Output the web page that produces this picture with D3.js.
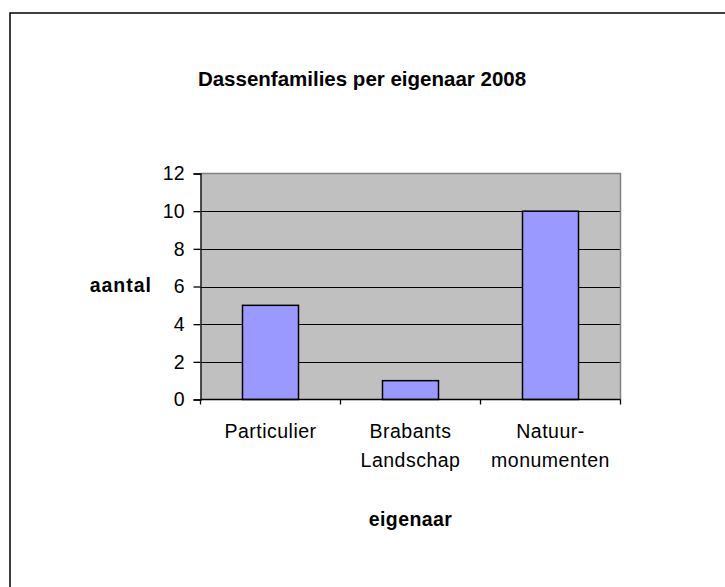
<!DOCTYPE html>
<html><head><meta charset="utf-8">
<script src="https://cdn.jsdelivr.net/npm/d3@7"></script>
<style>
html,body{margin:0;padding:0;background:#fff;overflow:hidden;}
svg{display:block;font-family:Arial,"Liberation Sans",sans-serif;}
</style></head>
<body>
<svg id="chart" width="725" height="587"></svg>
<script>
const categories = [["Particulier"], ["Brabants", "Landschap"], ["Natuur-", "monumenten"]];
const categoryKeys = ["Particulier", "Brabants Landschap", "Natuurmonumenten"];
const values = [5, 1, 10];
const yTicks = [0, 2, 4, 6, 8, 10, 12];
const title = "Dassenfamilies per eigenaar 2008";
const yTitle = "aantal";
const xTitle = "eigenaar";

const svg = d3.select("#chart");
const plot = {left: 200.5, right: 620.5, top: 173.5, bottom: 399.5};

// outer chart border (extends beyond viewport)
svg.append("rect").attr("x", 10).attr("y", 13).attr("width", 800).attr("height", 700)
  .attr("fill", "#fff").attr("stroke", "#000").attr("stroke-width", 1.5);

const x = d3.scaleBand().domain(categoryKeys).range([plot.left, plot.right]).paddingInner(0.6).paddingOuter(0.3);
const xb = d3.scaleBand().domain(categoryKeys).range([plot.left, plot.right]);
const y = d3.scaleLinear().domain([0, 12]).range([plot.bottom, plot.top]);

// plot background
svg.append("rect").attr("x", plot.left).attr("y", plot.top)
  .attr("width", plot.right - plot.left).attr("height", plot.bottom - plot.top)
  .attr("fill", "#c0c0c0");

// gridlines
svg.append("g").selectAll("line").data(yTicks.filter(t => t > 0 && t < 12)).join("line")
  .attr("x1", plot.left).attr("x2", plot.right)
  .attr("y1", d => Math.round(y(d)) + 0.5).attr("y2", d => Math.round(y(d)) + 0.5)
  .attr("stroke", "#000").attr("stroke-width", 1);

// top and right border (gray)
svg.append("path")
  .attr("d", `M${plot.left},${plot.top}H${plot.right}V${plot.bottom}`)
  .attr("fill", "none").attr("stroke", "#808080").attr("stroke-width", 1.5);

// bars
svg.append("g").selectAll("rect").data(values).join("rect")
  .attr("x", (d, i) => x(categoryKeys[i]))
  .attr("width", x.bandwidth())
  .attr("y", d => y(d))
  .attr("height", d => y(0) - y(d))
  .attr("fill", "#9999ff").attr("stroke", "#000").attr("stroke-width", 1.5);

// y axis
const yAxis = d3.axisLeft(y).tickValues(yTicks).tickSize(7).tickPadding(9).tickFormat(d3.format("d"));
const gy = svg.append("g").attr("transform", `translate(${plot.left},0)`).call(yAxis);
gy.select(".domain").attr("stroke", "#000").attr("stroke-width", 1.3);
gy.selectAll(".tick line").attr("stroke", "#000").attr("stroke-width", 1.3);
gy.selectAll(".tick text").attr("font-size", 19.5).attr("fill", "#000")
  .attr("font-family", "Arial, 'Liberation Sans', sans-serif");

// x axis line and ticks
svg.append("line").attr("x1", plot.left).attr("x2", plot.right)
  .attr("y1", plot.bottom).attr("y2", plot.bottom).attr("stroke", "#000").attr("stroke-width", 1.3);
const bounds = categoryKeys.map(k => xb(k)).concat([xb(categoryKeys[categoryKeys.length - 1]) + xb.bandwidth()]);
svg.append("g").selectAll("line").data(bounds).join("line")
  .attr("x1", d => d).attr("x2", d => d)
  .attr("y1", plot.bottom).attr("y2", plot.bottom + 5)
  .attr("stroke", "#000").attr("stroke-width", 1.3);

// category labels
const lab = svg.append("g").selectAll("text").data(categories).join("text")
  .attr("x", (d, i) => xb(categoryKeys[i]) + xb.bandwidth() / 2)
  .attr("y", 437.5).attr("text-anchor", "middle").attr("font-size", 19.5)
  .attr("letter-spacing", 0.5).attr("fill", "#000");
lab.selectAll("tspan").data(d => d).join("tspan")
  .attr("x", function() { return this.parentNode.getAttribute("x"); })
  .attr("dy", (d, j) => j === 0 ? 0 : 29).text(d => d);

// titles
svg.append("text").attr("x", 362).attr("y", 86).attr("text-anchor", "middle")
  .attr("font-size", 20.5).attr("font-weight", "bold").text(title);
svg.append("text").attr("x", 152).attr("y", 292).attr("text-anchor", "end")
  .attr("font-size", 19.5).attr("font-weight", "bold").attr("letter-spacing", 1).text(yTitle);
svg.append("text").attr("x", (plot.left + plot.right) / 2).attr("y", 526).attr("text-anchor", "middle")
  .attr("font-size", 19.5).attr("font-weight", "bold").attr("letter-spacing", 0.4).text(xTitle);
</script>
</body></html>
